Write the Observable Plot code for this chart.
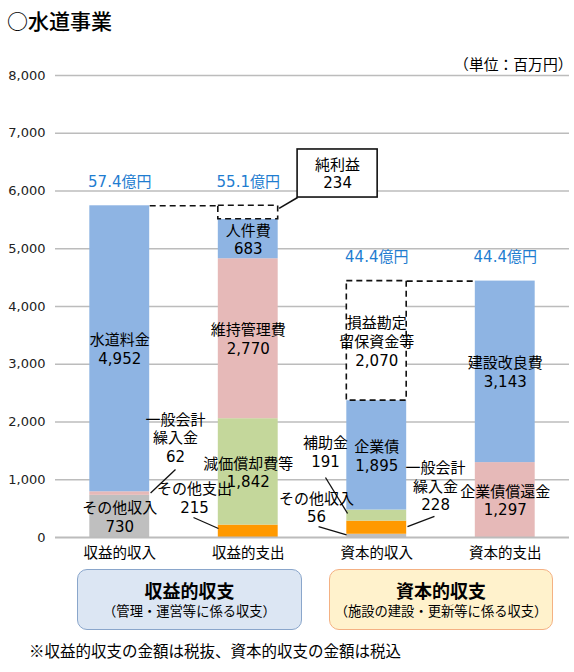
<!DOCTYPE html>
<html>
<head>
<meta charset="utf-8">
<script src="https://cdn.jsdelivr.net/npm/d3@7"></script>
<script src="https://cdn.jsdelivr.net/npm/@observablehq/plot@0.6"></script>
<style>
  body { margin: 0; background: #fff; width: 574px; color: #000;
         font-family: "DejaVu Sans", "Noto Sans CJK JP", sans-serif; }
  #title { height: 38px; line-height: 40px; padding-left: 7px; font-size: 21px;
           font-family: "Noto Sans CJK JP", sans-serif; font-weight: 500; }
  #chart svg { display: block; }
  #bottom { position: relative; height: 105px; font-family: "Noto Sans CJK JP", sans-serif; }
  .box { position: absolute; top: 2px; height: 61px; border-radius: 10px; box-sizing: border-box; border: 1.5px solid; }
  .box .t { position: absolute; left: 0; right: 0; top: 10px; line-height: 20px; text-align: center; font-size: 18px; font-weight: bold; }
  .box .s { position: absolute; left: 0; right: 0; top: 32px; line-height: 18px; text-align: center; font-size: 13.3px; }
  #left { left: 77px; width: 225px; background: #DCE6F3; border-color: #8AA6CB; }
  #right { left: 329px; width: 224px; background: #FFF2CC; border-color: #F4B183; }
  #note { position: absolute; left: 29px; top: 73px; line-height: 20px; font-size: 15.5px; white-space: nowrap; }
</style>
</head>
<body>
<div id="title"></div>
<div id="chart"></div>
<div id="bottom">
  <div class="box" id="left"><div class="t"></div><div class="s"></div></div>
  <div class="box" id="right"><div class="t"></div><div class="s"></div></div>
  <div id="note"></div>
</div>
<script>
// ---------- data ----------
const titleText = "○水道事業";
const unitLabel = "（単位：百万円）";
const categories = ["収益的収入", "収益的支出", "資本的収入", "資本的支出"];
const yTicks = [0, 1000, 2000, 3000, 4000, 5000, 6000, 7000, 8000];

const revIncomeItems = ["その他収入", "一般会計\n繰入金", "水道料金"];
const revIncomeValues = [730, 62, 4952];

const revExpenseItems = ["その他支出", "減価償却費等", "維持管理費", "人件費"];
const revExpenseValues = [215, 1842, 2770, 683];
const netProfitLabel = "純利益";
const netProfit = 234;

const capIncomeItems = ["その他収入", "一般会計\n繰入金", "補助金", "企業債"];
const capIncomeValues = [56, 228, 191, 1895];
const retainedLabel = "損益勘定\n留保資金等";
const retainedFunds = 2070;

const capExpenseItems = ["企業債償還金", "建設改良費"];
const capExpenseValues = [1297, 3143];

const groupTitles = ["収益的収支", "資本的収支"];
const groupSubtitles = ["（管理・運営等に係る収支）", "（施設の建設・更新等に係る収支）"];
const noteText = "※収益的収支の金額は税抜、資本的収支の金額は税込";

// ---------- styles ----------
const BLUE = "#8EB4E3", PINK = "#E6B9B8", GREEN = "#C4D79B", GRAY = "#BFBFBF", ORANGE = "#FF9900";
const groupFills = [
  [GRAY, PINK, BLUE],
  [ORANGE, GREEN, PINK, BLUE],
  [GRAY, ORANGE, GREEN, BLUE],
  [PINK, BLUE]
];
const hw = 0.233; // half bar width in x units
// labels placed outside their bar: [group, item index, label x, label y, leader x1, y1, x2, y2]
const outsideLabels = [
  [0, 1, 0.434, 1732, 0.434, 1177, 0.240, 770],
  [1, 0, 0.582, 693, 0.574, 346, 0.768, 156],
  [2, 0, 1.531, 528, 1.547, 190, 1.765, 45],
  [2, 1, 2.458, 900, 2.449, 364, 2.239, 190],
  [2, 2, 1.601, 1489, 1.601, 1039, 1.773, 416]
];
// callout box for net profit [x1, x2, y1, y2] and its pointer end
const callout = {x1: 1.384, x2: 2.007, y1: 5887, y2: 6719, px: 1.24, py: 5700};

// ---------- build ----------
document.getElementById("title").textContent = titleText;
const fmt = d3.format(",");
const groups = [
  {items: revIncomeItems, values: revIncomeValues},
  {items: revExpenseItems, values: revExpenseValues},
  {items: capIncomeItems, values: capIncomeValues},
  {items: capExpenseItems, values: capExpenseValues}
];
const segs = [];
groups.forEach((g, i) => {
  let acc = 0;
  g.items.forEach((it, k) => {
    segs.push({i, k, item: it, value: g.values[k], y1: acc, y2: acc + g.values[k], fill: groupFills[i][k]});
    acc += g.values[k];
  });
  g.sum = acc;
});
const dashed = [
  {i: 1, y1: groups[1].sum, y2: groups[1].sum + netProfit, label: null},
  {i: 2, y1: groups[2].sum, y2: groups[2].sum + retainedFunds, label: retainedLabel + "\n" + fmt(retainedFunds)}
];
const tops = [groups[0].sum, dashed[0].y2, dashed[1].y2, groups[3].sum];
const totals = [groups[0].sum, groups[1].sum, groups[2].sum + retainedFunds, groups[3].sum];
const totalRows = tops.map((t, i) => ({i, top: t, label: (totals[i] / 100).toFixed(1) + "億円"}));

const segLabels = segs.map(s => {
  const o = outsideLabels.find(d => d[0] === s.i && d[1] === s.k);
  return {x: o ? o[2] : s.i, y: o ? o[3] : (s.y1 + s.y2) / 2, text: s.item + "\n" + fmt(s.value)};
});
dashed.filter(d => d.label).forEach(d => segLabels.push({x: d.i, y: (d.y1 + d.y2) / 2, text: d.label}));
const leaders = outsideLabels.map(d => ({x1: d[4], y1: d[5], x2: d[6], y2: d[7]}));
const connectors = [
  {x1: 0 + hw, x2: 1 - hw, y: tops[0]},
  {x1: 2 + hw, x2: 3 - hw, y: tops[2]}
];

const plot = Plot.plot({
  width: 574, height: 529,
  marginTop: 37, marginBottom: 30, marginLeft: 55, marginRight: 5,
  style: {fontFamily: '"DejaVu Sans", "Noto Sans CJK JP", sans-serif', fontSize: "15px", color: "#000", background: "#fff"},
  x: {domain: [-0.5, 3.5]},
  y: {domain: [0, 8000]},
  color: {type: "identity"},
  marks: [
    Plot.ruleY(yTicks.filter(t => t > 0), {stroke: "#bcbcbc", strokeWidth: 1.5}),
    Plot.rect(segs, {x1: d => d.i - hw, x2: d => d.i + hw, y1: "y1", y2: "y2", fill: "fill"}),
    Plot.ruleY([0], {stroke: "#bcbcbc", strokeWidth: 2}),
    Plot.rect(dashed, {x1: d => d.i - hw, x2: d => d.i + hw, y1: "y1", y2: "y2", fill: "#fff",
      stroke: "#111", strokeWidth: 1.6, strokeDasharray: "6,4"}),
    Plot.link(connectors, {x1: "x1", x2: "x2", y1: "y", y2: "y", stroke: "#111", strokeWidth: 1.6, strokeDasharray: "6,4"}),
    Plot.link(leaders, {x1: "x1", y1: "y1", x2: "x2", y2: "y2", stroke: "#111", strokeWidth: 1.3}),
    Plot.link([callout], {x1: "x1", y1: "y1", x2: "px", y2: "py", stroke: "#111", strokeWidth: 1.6}),
    Plot.rect([callout], {x1: "x1", x2: "x2", y1: "y1", y2: "y2", fill: "#fff", stroke: "#111", strokeWidth: 1.6}),
    Plot.text([callout], {x: d => (d.x1 + d.x2) / 2, y: d => (d.y1 + d.y2) / 2, text: () => netProfitLabel + "\n" + fmt(netProfit),
      fontSize: 15, lineHeight: 1.2, fill: "#000"}),
    Plot.text(segLabels, {x: "x", y: "y", text: "text", fontSize: 15, lineHeight: 1.25, fill: "#000"}),
    Plot.text(totalRows, {x: "i", y: "top", text: "label", dy: -24, fontSize: 15, fill: "#1F7DD0"}),
    Plot.text([unitLabel], {frameAnchor: "top-right", textAnchor: "end", lineAnchor: "middle", dx: 3, dy: -10,
      fontSize: 14.8, fontFamily: '"Noto Sans CJK JP", sans-serif', fill: "#000"}),
    Plot.axisY({ticks: yTicks, tickFormat: fmt, tickSize: 0, tickPadding: 10, fontSize: 13, label: null, fill: "#222"}),
    Plot.axisX({ticks: [0, 1, 2, 3], tickFormat: i => categories[i], tickSize: 0, tickPadding: 10,
      fontSize: 14.5, label: null, fill: "#000", fontFamily: '"Noto Sans CJK JP", sans-serif'})
  ]
});
document.getElementById("chart").appendChild(plot);

document.querySelector("#left .t").textContent = groupTitles[0];
document.querySelector("#left .s").textContent = groupSubtitles[0];
document.querySelector("#right .t").textContent = groupTitles[1];
document.querySelector("#right .s").textContent = groupSubtitles[1];
document.getElementById("note").textContent = noteText;
</script>
</body>
</html>
